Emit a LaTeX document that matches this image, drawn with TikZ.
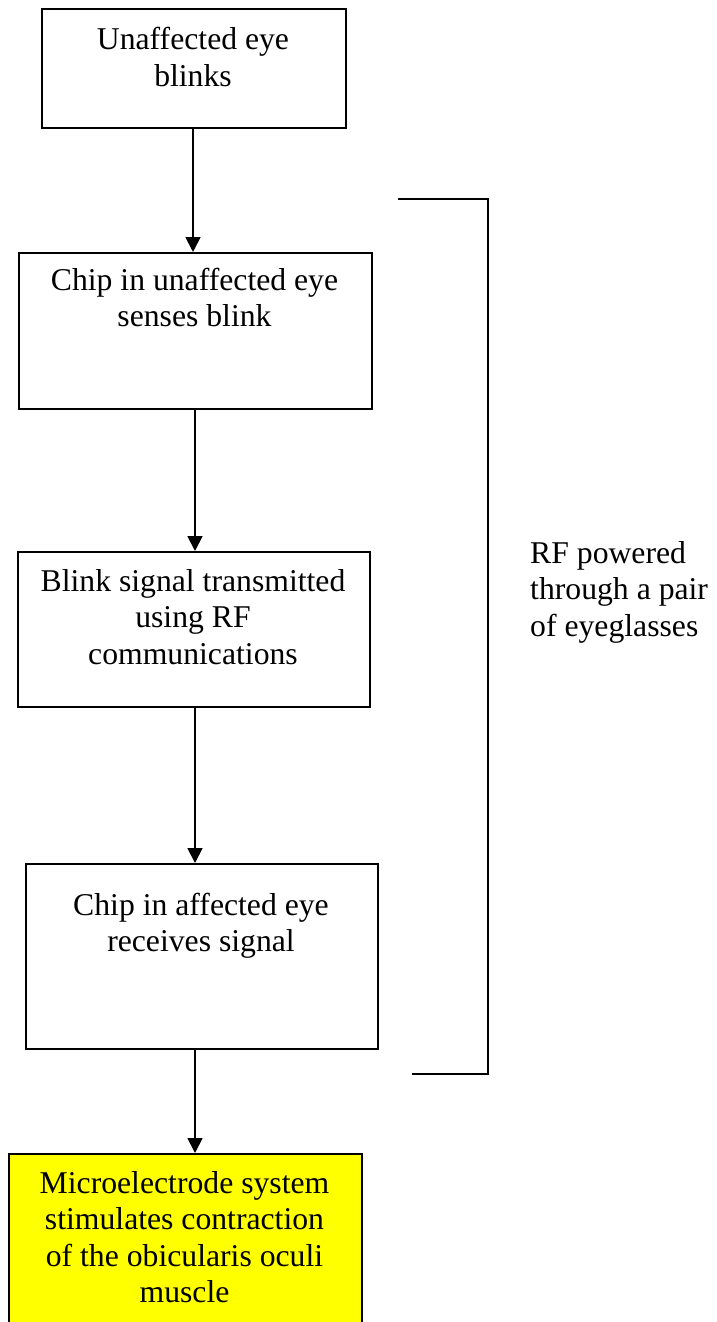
\documentclass[tikz,border=0pt]{standalone}
\usepackage{fontspec}
\setmainfont{Liberation Serif}
\usetikzlibrary{arrows.meta}
\tikzset{
  box/.style={draw, line width=1.8pt, rectangle, inner sep=0pt, anchor=north west},
  yellowbox/.style={box, fill={rgb,255:red,255;green,255;blue,0}},
  label/.style={anchor=base, inner sep=0pt, font=\fontsize{31.7pt}{36.6pt}\selectfont},
  arr/.style={line width=1.8pt, -{Triangle[length=15pt,width=15pt]}},
  brk/.style={line width=1.8pt}
}
\begin{document}
\begin{tikzpicture}[x=1pt,y=-1pt]
\clip (0,0) rectangle (717,1322);
\fill[white] (0,0) rectangle (717,1322);
% boxes
\node[box, minimum width=304pt, minimum height=119pt] (b1) at (41,8) {};
\node[box, minimum width=353pt, minimum height=156pt] (b2) at (18,252) {};
\node[box, minimum width=352pt, minimum height=155pt] (b3) at (17,551) {};
\node[box, minimum width=352pt, minimum height=185pt] (b4) at (25,863) {};
\node[yellowbox, minimum width=353pt, minimum height=200pt] (b5) at (8,1153) {};
% texts
\node[label] (t1) at (193,50) {\begin{tabular}[t]{@{}c@{}}Unaffected eye\\blinks\end{tabular}};
\node[label] (t2) at (194.5,290) {\begin{tabular}[t]{@{}c@{}}Chip in unaffected eye\\senses blink\end{tabular}};
\node[label] (t3) at (193,591) {\begin{tabular}[t]{@{}c@{}}Blink signal transmitted\\using RF\\communications\end{tabular}};
\node[label] (t4) at (201,915) {\begin{tabular}[t]{@{}c@{}}Chip in affected eye\\receives signal\end{tabular}};
\node[label] (t5) at (184.5,1193) {\begin{tabular}[t]{@{}c@{}}Microelectrode system\\stimulates contraction\\of the obicularis oculi\\muscle\end{tabular}};
\node[label, anchor=base west] (rf) at (530,563) {\begin{tabular}[t]{@{}l@{}}RF powered\\through a pair\\of eyeglasses\end{tabular}};
% connectors
\coordinate (a1) at (193,0);
\coordinate (a2) at (195,0);
\draw[arr] (b1.south -| a1) -- (b2.north -| a1);
\draw[arr] (b2.south -| a2) -- (b3.north -| a2);
\draw[arr] (b3.south -| a2) -- (b4.north -| a2);
\draw[arr] (b4.south -| a2) -- (b5.north -| a2);
% bracket
\coordinate (k1) at (398,199);
\coordinate (k2) at (488,199);
\coordinate (k3) at (488,1074);
\coordinate (k4) at (412,1074);
\draw[brk] (k1) -- (k2) -- (k3) -- (k4);
\end{tikzpicture}
\end{document}
